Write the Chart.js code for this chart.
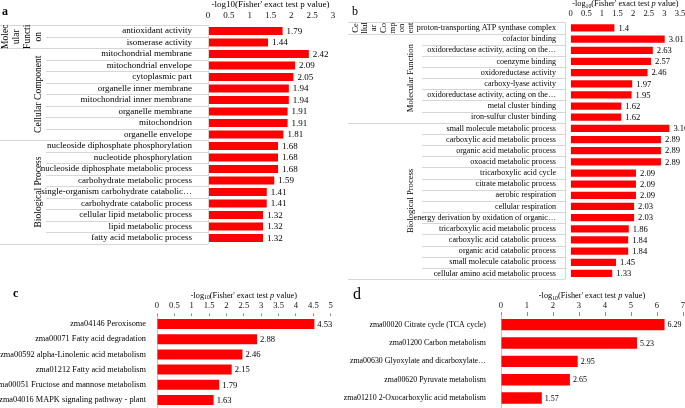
<!DOCTYPE html>
<html>
<head>
<meta charset="utf-8">
<script src="https://cdn.jsdelivr.net/npm/chart.js@4"></script>
<style>
  body { margin: 0; background: #fff; width: 685px; height: 408px; position: relative; overflow: hidden; }
  canvas { position: absolute; }
</style>
</head>
<body>
<canvas id="ca" width="340" height="250" style="left:0;top:0"></canvas>
<canvas id="cb" width="345" height="282" style="left:340px;top:0"></canvas>
<canvas id="cc" width="340" height="128" style="left:0;top:280px"></canvas>
<canvas id="cd" width="345" height="128" style="left:340px;top:280px"></canvas>
<script>
const SERIF = '"Liberation Serif", "Times New Roman", serif';

// panel a: GO terms
const labelsA = ['antioxidant activity', 'isomerase activity', 'mitochondrial membrane', 'mitochondrial envelope',
  'cytoplasmic part', 'organelle inner membrane', 'mitochondrial inner membrane', 'organelle membrane',
  'mitochondrion', 'organelle envelope', 'nucleoside diphosphate phosphorylation', 'nucleotide phosphorylation',
  'nucleoside diphosphate metabolic process', 'carbohydrate metabolic process',
  'single-organism carbohydrate catabolic\u2026', 'carbohydrate catabolic process',
  'cellular lipid metabolic process', 'lipid metabolic process', 'fatty acid metabolic process'];
const valuesA = [1.79, 1.44, 2.42, 2.09, 2.05, 1.94, 1.94, 1.91, 1.91, 1.81, 1.68, 1.68, 1.68, 1.59, 1.41, 1.41, 1.32, 1.32, 1.32];
const groupSizesA = [2, 8, 9];
const groupTextA = [['Molec', 'ular', 'Functi', 'on'], ['Cellular Component'], ['Biological Process']];

// panel b: GO terms
const labelsB = ['proton-transporting ATP synthase complex', 'cofactor binding',
  'oxidoreductase activity, acting on the\u2026', 'coenzyme binding', 'oxidoreductase activity',
  'carboxy-lyase activity', 'oxidoreductase activity, acting on the\u2026', 'metal cluster binding',
  'iron-sulfur cluster binding', 'small molecule metabolic process', 'carboxylic acid metabolic process',
  'organic acid metabolic process', 'oxoacid metabolic process', 'tricarboxylic acid cycle',
  'citrate metabolic process', 'aerobic respiration', 'cellular respiration',
  'energy derivation by oxidation of organic\u2026', 'tricarboxylic acid metabolic process',
  'carboxylic acid catabolic process', 'organic acid catabolic process', 'small molecule catabolic process',
  'cellular amino acid metabolic process'];
const valuesB = [1.4, 3.01, 2.63, 2.57, 2.46, 1.97, 1.95, 1.62, 1.62, 3.16, 2.89, 2.89, 2.89, 2.09, 2.09, 2.09, 2.03, 2.03, 1.86, 1.84, 1.84, 1.45, 1.33];
const groupSizesB = [1, 8, 14];
const groupTextB = [['Ce', 'llul', 'ar', 'Co', 'mp', 'on', 'ent'], ['Molecular Function'], ['Biological Process']];

// panel c: KEGG
const labelsC = ['zma04146 Peroxisome', 'zma00071 Fatty acid degradation', 'zma00592 alpha-Linolenic acid metabolism',
  'zma01212 Fatty acid metabolism', 'zma00051 Fructose and mannose metabolism', 'zma04016 MAPK signaling pathway - plant'];
const valuesC = [4.53, 2.88, 2.46, 2.15, 1.79, 1.63];

// panel d: KEGG
const labelsD = ['zma00020 Citrate cycle (TCA cycle)', 'zma01200 Carbon metabolism',
  'zma00630 Glyoxylate and dicarboxylate\u2026', 'zma00620 Pyruvate metabolism', 'zma01210 2-Oxocarboxylic acid metabolism'];
const valuesD = [6.29, 5.23, 2.95, 2.65, 1.57];

const axisMax = { a: 3, b: 3.5, c: 5, d: 7 };
const axisStep = { a: 0.5, b: 0.5, c: 0.5, d: 1 };

const titlePlain = [{ t: "-log10(Fisher' exact test p value)" }];
const titleRich = [{ t: '-log' }, { t: '10', sub: true }, { t: "(Fisher' exact test " }, { t: 'p', it: true }, { t: ' value)' }];

function drawTitle(c, parts, cx, y, size) {
  const fontOf = p => (p.it ? 'italic ' : '') + (p.sub ? size * 0.7 : size) + 'px ' + SERIF;
  let w = 0;
  parts.forEach(p => { c.font = fontOf(p); w += c.measureText(p.t).width; });
  let x = cx - w / 2;
  c.textAlign = 'left';
  c.textBaseline = 'alphabetic';
  parts.forEach(p => {
    c.font = fontOf(p);
    c.fillText(p.t, x, p.sub ? y + size * 0.22 : y);
    x += c.measureText(p.t).width;
  });
}

function panelPlugin(o) {
  return {
    id: 'panel_' + o.id,
    afterDraw(chart) {
      const c = chart.ctx, area = chart.chartArea, ys = chart.scales.y;
      const n = o.labels.length, step = area.height / n;
      c.save();
      c.fillStyle = '#000';

      // table lines and rotated group names
      if (o.groups) {
        const g = o.groups;
        const bounds = [0];
        g.sizes.forEach(s => bounds.push(bounds[bounds.length - 1] + s));
        c.strokeStyle = '#d6d6d6';
        c.lineWidth = 1;
        for (let i = 0; i <= n; i++) {
          const yy = Math.round(ys.getPixelForValue(i) - step / 2) + 0.5;
          const x0 = bounds.includes(i) ? g.tableLeft : g.innerLeft;
          c.beginPath(); c.moveTo(x0, yy); c.lineTo(g.tableRight, yy); c.stroke();
        }
        c.beginPath();
        c.moveTo(g.tableRight + 0.5, area.top); c.lineTo(g.tableRight + 0.5, area.bottom);
        c.stroke();

        c.font = g.size + 'px ' + SERIF;
        c.textAlign = 'center';
        c.textBaseline = 'middle';
        g.text.forEach((lines, k) => {
          const yc = (ys.getPixelForValue(bounds[k]) + ys.getPixelForValue(bounds[k + 1] - 1)) / 2;
          lines.forEach((ln, j) => {
            const x = g.colRight - (lines.length - 1 - j) * g.lh;
            c.save();
            c.translate(x, yc);
            c.rotate(-Math.PI / 2);
            c.fillText(ln, 0, 0);
            c.restore();
          });
        });
      }

      // value labels
      c.font = o.valSize + 'px ' + SERIF;
      c.textAlign = 'left';
      c.textBaseline = 'middle';
      chart.getDatasetMeta(0).data.forEach((bar, i) => {
        c.fillText(String(o.values[i]), bar.x + o.valGap, bar.y + 0.5);
      });

      // axis title and panel letter
      drawTitle(c, o.title, (area.left + area.right) / 2, o.titleY, o.titleSize);
      c.font = o.letter.font + ' ' + SERIF;
      c.textAlign = 'left';
      c.textBaseline = 'alphabetic';
      c.fillText(o.letter.t, o.letter.x, o.letter.y);
      c.restore();
    }
  };
}

function makeChart(o) {
  const ctx = document.getElementById(o.id).getContext('2d');
  return new Chart(ctx, {
    type: 'bar',
    data: {
      labels: o.labels,
      datasets: [{ data: o.values, backgroundColor: '#ff0000', borderWidth: 0, barPercentage: o.barPct, categoryPercentage: 1 }]
    },
    options: {
      indexAxis: 'y',
      responsive: false,
      animation: false,
      devicePixelRatio: 1,
      layout: { padding: { left: 0, top: 0, right: o.padRight, bottom: o.padBottom } },
      plugins: { legend: { display: false }, tooltip: { enabled: false } },
      scales: {
        x: {
          position: 'top', min: 0, max: o.max,
          ticks: {
            stepSize: o.step, color: '#111', font: { family: SERIF, size: o.tickSize }, padding: o.tickPad,
            maxRotation: 0, autoSkip: false, callback: v => String(Math.round(v * 100) / 100)
          },
          grid: { display: o.tickLen > 0, drawOnChartArea: false, tickLength: o.tickLen, color: '#8c8c8c' },
          border: { display: false },
          afterFit: s => { s.height = o.top; s.paddingLeft = 0; s.paddingRight = 0; s.paddingTop = 0; s.paddingBottom = 0; }
        },
        y: {
          ticks: { color: '#000', font: { family: SERIF, size: o.labelSize }, padding: o.labelPad, autoSkip: false },
          grid: { display: false },
          border: { display: o.axisLine, color: '#c4c4c4' },
          afterFit: s => { s.width = o.left; s.paddingTop = 0; s.paddingBottom = 0; s.paddingLeft = 0; s.paddingRight = 0; }
        }
      }
    },
    plugins: [panelPlugin(o)]
  });
}

makeChart({
  id: 'ca', labels: labelsA, values: valuesA, max: axisMax.a, step: axisStep.a,
  left: 208, top: 25.25, padRight: 7, padBottom: 6.25,
  tickSize: 9, tickPad: 4.5, tickLen: 0, labelSize: 9, labelPad: 8, barPct: 0.7, axisLine: false,
  valSize: 9, valGap: 4, title: titlePlain, titleY: 6.7, titleSize: 9,
  groups: { sizes: groupSizesA, text: groupTextA, tableLeft: 0, innerLeft: 46, tableRight: 208, colRight: 38, lh: 11, size: 9.5 },
  letter: { t: 'a', x: 2, y: 15, font: 'bold 12px' }
});

makeChart({
  id: 'cb', labels: labelsB, values: valuesB, max: axisMax.b, step: axisStep.b,
  left: 230.7, top: 22.4, padRight: 5, padBottom: 3,
  tickSize: 8.6, tickPad: 3.2, tickLen: 0, labelSize: 8.1, labelPad: 6.7, barPct: 0.65, axisLine: false,
  valSize: 8.6, valGap: 4, title: titleRich, titleY: 5.7, titleSize: 8.3,
  groups: { sizes: groupSizesB, text: groupTextB, tableLeft: 8, innerLeft: 82, tableRight: 225, colRight: 71, lh: 9.2, size: 8.6 },
  letter: { t: 'b', x: 12, y: 15, font: '12px' }
});

makeChart({
  id: 'cc', labels: labelsC, values: valuesC, max: axisMax.c, step: axisStep.c,
  left: 157, top: 36.4, padRight: 9.3, padBottom: 0.4,
  tickSize: 8.6, tickPad: 2.6, tickLen: 3, labelSize: 8.3, labelPad: 3, barPct: 0.66, axisLine: true,
  valSize: 8.6, valGap: 3, title: titleRich, titleY: 17.5, titleSize: 8.3,
  letter: { t: 'c', x: 13, y: 17, font: 'bold 12px' }
});

makeChart({
  id: 'cd', labels: labelsD, values: valuesD, max: axisMax.d, step: axisStep.d,
  left: 161, top: 35.5, padRight: 2, padBottom: 0.8,
  tickSize: 8.6, tickPad: 1, tickLen: 3.5, labelSize: 7.9, labelPad: 7, barPct: 0.62, axisLine: true,
  valSize: 8, valGap: 3, title: titleRich, titleY: 17.7, titleSize: 8.3,
  letter: { t: 'd', x: 13, y: 19, font: '16px' }
});
</script>
</body>
</html>
